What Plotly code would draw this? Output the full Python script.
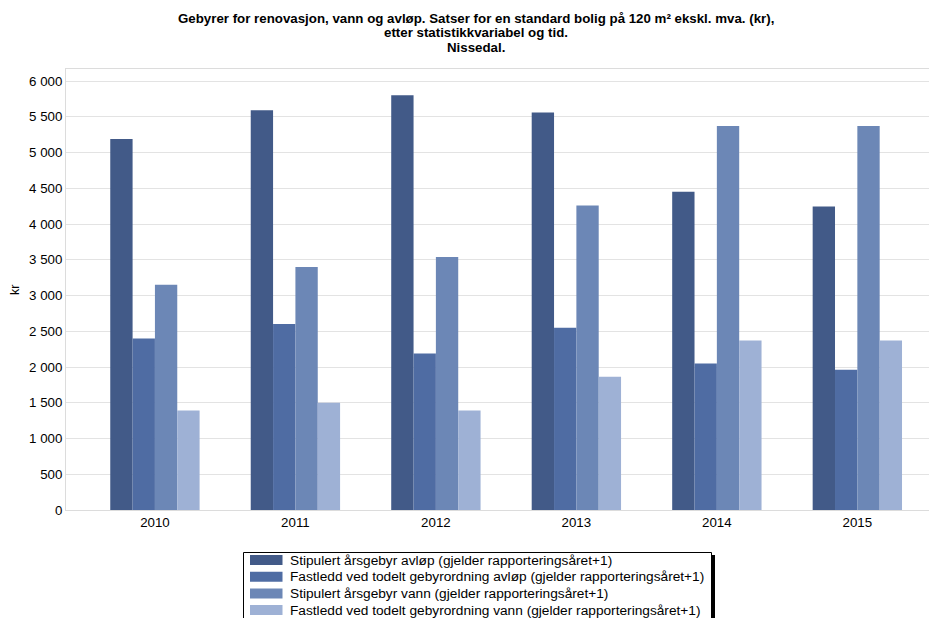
import plotly.graph_objects as go

years = ["2010", "2011", "2012", "2013", "2014", "2015"]
series_names = [
    "Stipulert årsgebyr avløp (gjelder rapporteringsåret+1)",
    "Fastledd ved todelt gebyrordning avløp (gjelder rapporteringsåret+1)",
    "Stipulert årsgebyr vann (gjelder rapporteringsåret+1)",
    "Fastledd ved todelt gebyrordning vann (gjelder rapporteringsåret+1)",
]
stip_avlop = [5190, 5590, 5800, 5560, 4450, 4245]
fast_avlop = [2400, 2600, 2190, 2550, 2050, 1960]
stip_vann = [3150, 3400, 3540, 4260, 5370, 5370]
fast_vann = [1390, 1500, 1390, 1865, 2370, 2370]
colors = ["#425a88", "#4f6ca3", "#6c87b6", "#9eb1d5"]
title_lines = [
    "Gebyrer for renovasjon, vann og avløp. Satser for en standard bolig på 120 m² ekskl. mva. (kr),",
    "etter statistikkvariabel og tid.",
    "Nissedal.",
]
y_title = "kr"

OFF = 8  # page body margin
W, H = 937 - OFF, 618 - OFF
L, R, T = 66 - OFF, 0, 69 - OFF
B = H - (510 - OFF)
PW, PH = W - L - R, H - T - B


def px(x):
    return (x - OFF - L) / PW


def py(y):
    return (H - B - (y - OFF)) / PH


FONT = "Liberation Sans, Arial, sans-serif"
TICK = 13.3

fig = go.Figure()
for name, vals, col in zip(series_names, [stip_avlop, fast_avlop, stip_vann, fast_vann], colors):
    fig.add_trace(go.Bar(x=years, y=vals, name=name, marker=dict(color=col, line=dict(width=0))))

shapes = []
annotations = []
# legend shadow + box
shapes.append(dict(type="rect", xref="paper", yref="paper", x0=px(246), x1=px(715),
                   y0=py(555), y1=py(650), fillcolor="black", line=dict(width=0), layer="above"))
shapes.append(dict(type="rect", xref="paper", yref="paper", x0=px(243.5), x1=px(711.5),
                   y0=py(552.5), y1=py(650), fillcolor="white", line=dict(color="black", width=1), layer="above"))
for i, (name, col) in enumerate(zip(series_names, colors)):
    yc = 560 + i * 16.7
    shapes.append(dict(type="rect", xref="paper", yref="paper", x0=px(250), x1=px(282.5),
                       y0=py(yc - 5), y1=py(yc + 5), fillcolor=col, line=dict(width=0), layer="above"))
    annotations.append(dict(text=name, xref="paper", yref="paper", x=px(288), y=py(yc),
                            xanchor="left", yanchor="middle", showarrow=False,
                            font=dict(size=13.7, family=FONT, color="black")))

for i, line in enumerate(title_lines):
    annotations.append(dict(text="<b>" + line + "</b>", xref="paper", yref="paper",
                            x=px(476), y=py(18 + i * 14.5), xanchor="center", yanchor="middle",
                            showarrow=False, font=dict(size=13.3, family=FONT, color="black")))

annotations.append(dict(text=y_title, xref="paper", yref="paper", x=px(15), y=py(290),
                        xanchor="center", yanchor="middle", textangle=-90, showarrow=False,
                        font=dict(size=12.5, family=FONT, color="black")))

fig.update_layout(
    width=W, height=H,
    margin=dict(l=L, r=R, t=T, b=B),
    paper_bgcolor="white", plot_bgcolor="white",
    separators=", ",
    font=dict(family=FONT, size=12, color="#000000"),
    barmode="group", bargap=0.364, bargroupgap=0,
    showlegend=False,
    shapes=shapes, annotations=annotations,
    xaxis=dict(
        type="category", range=[-0.633, 5.567], automargin=False,
        showline=True, mirror=True, linecolor="#dcdcdc", linewidth=1,
        showgrid=False, ticks="", tickfont=dict(size=TICK),
    ),
    yaxis=dict(
        range=[0, 6168], tickvals=list(range(0, 6001, 500)), tickformat=",d", automargin=False,
        showgrid=True, gridcolor="#e3e3e3", gridwidth=1,
        showline=True, mirror=True, linecolor="#dcdcdc", linewidth=1,
        zeroline=False, ticks="", tickfont=dict(size=TICK),
    ),
)

fig.write_html("out.html")
